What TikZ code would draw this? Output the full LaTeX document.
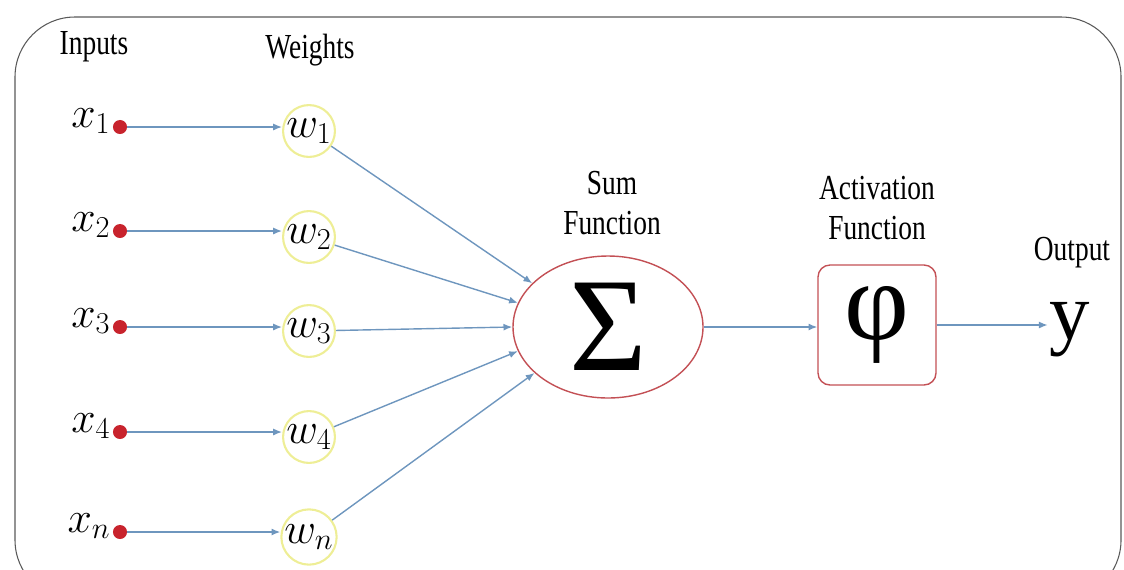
\documentclass[tikz,border=0pt]{standalone}
\usepackage{fontspec}
\newfontfamily\labelfont[FakeStretch=0.78]{Liberation Serif}
\newfontfamily\symfont{Liberation Serif}
\usetikzlibrary{arrows.meta,shapes.geometric}
\definecolor{wirecol}{RGB}{110,150,190}
\definecolor{dotred}{RGB}{200,35,45}
\definecolor{ringyel}{RGB}{238,238,150}
\definecolor{edgered}{RGB}{195,80,85}
\begin{document}
\begin{tikzpicture}[x=0.02cm,y=-0.02cm,>={Latex[length=5pt,width=4pt]},
  wire/.style={->,draw=wirecol,thick},
  caption/.style={font=\labelfont\fontsize{20}{23}\selectfont,align=center,inner sep=1pt},
  indot/.style={circle,fill=dotred,minimum size=14pt*0.57,inner sep=0pt},
  inlabel/.style={anchor=base east,inner sep=0pt,xshift=-1pt,font=\fontsize{23}{23}\selectfont},
  weight/.style={circle,draw=ringyel,line width=1.2pt,minimum size=42*0.02cm,inner sep=0pt,font=\fontsize{23}{23}\selectfont}]
  \useasboundingbox (0,0) rectangle (1124,569);
  \draw[gray!70!black,semithick,rounded corners=60*0.02cm] (15,17) rectangle (1121,600);
  % headings
  \node[caption] (inputs) at (94,47) {Inputs};
  \node[caption] (weights) at (310,50) {Weights};
  \node[caption] (sumtxt) at (612,203) {Sum\\Function};
  \node[caption] (acttxt) at (877,208) {Activation\\Function};
  \node[caption] (outtxt) at (1072,253) {Output};
  % inputs
  \node[indot] (x1) at (120,127) {};
  \node[indot] (x2) at (120,231) {};
  \node[indot] (x3) at (120,327) {};
  \node[indot] (x4) at (120,432) {};
  \node[indot] (xn) at (120,532) {};
  \node[inlabel] at (x1.west) {$x_1$};
  \node[inlabel] at (x2.west) {$x_2$};
  \node[inlabel] at (x3.west) {$x_3$};
  \node[inlabel] at (x4.west) {$x_4$};
  \node[inlabel] at (xn.west) {$x_n$};
  % weights
  \node[weight] (w1) at (309,131) {$w_1$};
  \node[weight] (w2) at (309,237) {$w_2$};
  \node[weight] (w3) at (309,331) {$w_3$};
  \node[weight] (w4) at (309,437) {$w_4$};
  \node[weight] (wn) at (309,537) {$w_n$};
  % sum and activation
  \node[ellipse,draw=edgered,thick,minimum width=190*0.02cm,minimum height=142*0.02cm,
    inner sep=0pt,font=\symfont\fontsize{76}{76}\selectfont] (sum) at (608,327) {Σ};
  \node[draw=edgered,thick,rounded corners=12pt*0.57,minimum width=118*0.02cm,
    minimum height=120*0.02cm,inner sep=0pt,font=\symfont\fontsize{64}{64}\selectfont] (act) at (877,325) {φ};
  \node[font=\symfont\fontsize{46}{46}\selectfont,inner sep=1pt] (out) at (1070,330) {y};
  % connections
  \draw[wire] (x1) -- (w1.west |- x1);
  \draw[wire] (x2) -- (w2.west |- x2);
  \draw[wire] (x3) -- (w3.west |- x3);
  \draw[wire] (x4) -- (w4.west |- x4);
  \draw[wire] (xn) -- (wn.west |- xn);
  \draw[wire] (w1) -- (sum.150);
  \draw[wire] (w2) -- (sum.165);
  \draw[wire] (w3) -- (sum.west);
  \draw[wire] (w4) -- (sum.195);
  \draw[wire] (wn) -- (sum.212);
  \draw[wire] (sum.east) -- (act.west |- sum.east);
  \draw[wire] (act.east) -- (out.west |- act.east);
\end{tikzpicture}
\end{document}
